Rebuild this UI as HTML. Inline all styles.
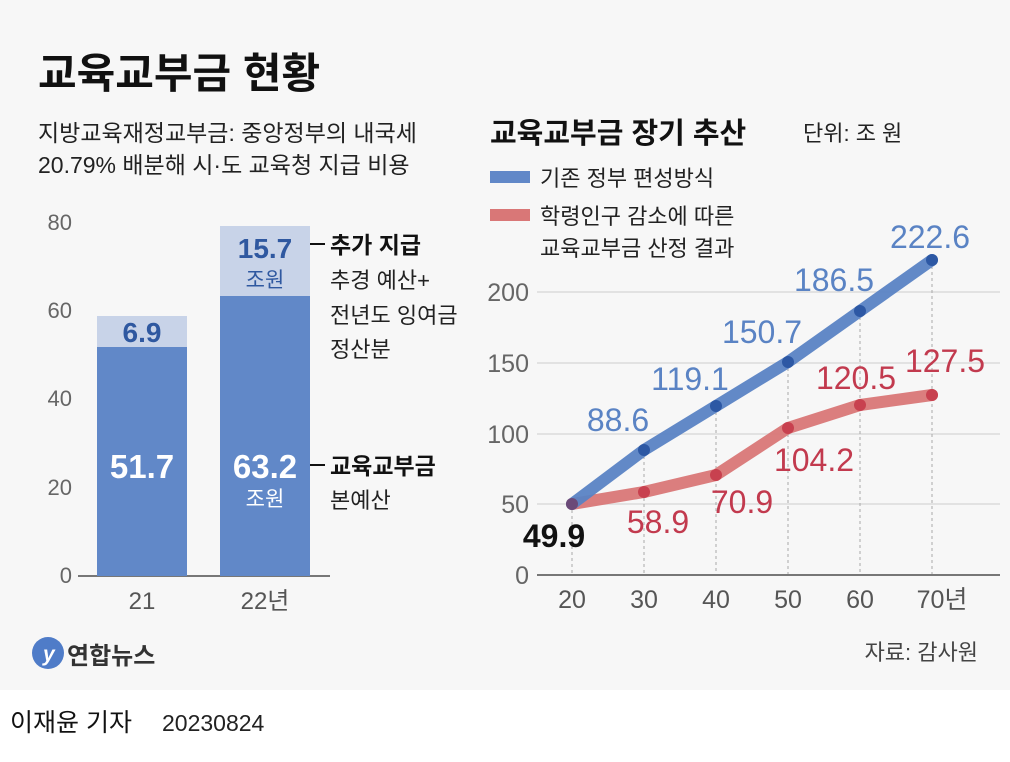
<!DOCTYPE html><html><head><meta charset="utf-8"><style>
body{margin:0;width:1010px;height:757px;overflow:hidden;font-family:"Liberation Sans","Noto Sans CJK KR",sans-serif;}
</style></head><body>
<svg width="1010" height="757" xmlns="http://www.w3.org/2000/svg" font-family="Liberation Sans, Noto Sans CJK KR, sans-serif">
<rect width="1010" height="690" fill="#f7f7f7"/>
<rect y="690" width="1010" height="67" fill="#fff"/>
<text x="38" y="88" font-size="42" font-weight="bold" fill="#111">교육교부금 현황</text>
<text x="38" y="141" font-size="23" fill="#222">지방교육재정교부금: 중앙정부의 내국세</text>
<text x="38" y="173" font-size="23" fill="#222">20.79% 배분해 시·도 교육청 지급 비용</text>
<!-- left axis -->
<g font-size="22" fill="#666" text-anchor="end">
<text x="72" y="230">80</text><text x="72" y="318">60</text><text x="72" y="406">40</text><text x="72" y="495">20</text><text x="72" y="583">0</text></g>
<line x1="78" y1="576" x2="330" y2="576" stroke="#777" stroke-width="2"/>
<rect x="97" y="316" width="90" height="31" fill="#c8d3e8"/>
<rect x="97" y="347" width="90" height="229" fill="#6188c8"/>
<rect x="220" y="226" width="90" height="70" fill="#c8d3e8"/>
<rect x="220" y="296" width="90" height="280" fill="#6188c8"/>
<g font-weight="bold" text-anchor="middle">
<text x="142" y="342" font-size="28" fill="#2f58a0">6.9</text>
<text x="142" y="478" font-size="33" fill="#fff">51.7</text>
<text x="265" y="258" font-size="28" fill="#2f58a0">15.7</text>
<text x="265" y="478" font-size="33" fill="#fff">63.2</text></g>
<g text-anchor="middle" font-size="21">
<text x="265" y="287" fill="#2f58a0">조원</text>
<text x="265" y="506" fill="#fff">조원</text>
<text x="142" y="609" font-size="24" fill="#555">21</text><text x="265" y="609" font-size="24" fill="#555">22년</text></g>
<line x1="310" y1="244" x2="325" y2="244" stroke="#111" stroke-width="2"/>
<line x1="310" y1="465" x2="325" y2="465" stroke="#111" stroke-width="2"/>
<text x="330" y="253" font-size="23" font-weight="bold" fill="#111">추가 지급</text>
<text x="330" y="288" font-size="22" fill="#222">추경 예산+</text>
<text x="330" y="323" font-size="22" fill="#222">전년도 잉여금</text>
<text x="330" y="357" font-size="22" fill="#222">정산분</text>
<text x="330" y="474" font-size="23" font-weight="bold" fill="#111">교육교부금</text>
<text x="330" y="508" font-size="22" fill="#222">본예산</text>
<circle cx="48" cy="653" r="16" fill="#4f7cc8"/>
<text x="43" y="661" font-size="21" font-style="italic" font-weight="bold" fill="#fff">y</text>
<text x="67" y="664" font-size="24" font-weight="bold" fill="#333">연합뉴스</text>
<!-- right -->
<text x="490" y="143" font-size="29" font-weight="bold" fill="#111">교육교부금 장기 추산</text>
<text x="803" y="141" font-size="22" fill="#222">단위: 조 원</text>
<line x1="490" y1="177" x2="530" y2="177" stroke="#6188c8" stroke-width="12"/>
<text x="540" y="186" font-size="22" fill="#222">기존 정부 편성방식</text>
<line x1="490" y1="215" x2="530" y2="215" stroke="#d97777" stroke-width="12"/>
<text x="540" y="224" font-size="22" fill="#222">학령인구 감소에 따른</text>
<text x="540" y="256" font-size="22" fill="#222">교육교부금 산정 결과</text>
<g stroke="#e2e2e2" stroke-width="2">
<line x1="537" y1="292" x2="1000" y2="292"/><line x1="537" y1="363" x2="1000" y2="363"/><line x1="537" y1="434" x2="1000" y2="434"/><line x1="537" y1="504" x2="1000" y2="504"/></g>
<g stroke="#aaa" stroke-width="1" stroke-dasharray="3,3">
<line x1="572" y1="504" x2="572" y2="575"/><line x1="644" y1="450" x2="644" y2="575"/><line x1="716" y1="406" x2="716" y2="575"/><line x1="788" y1="362" x2="788" y2="575"/><line x1="860" y1="311" x2="860" y2="575"/><line x1="932" y1="260" x2="932" y2="575"/></g>
<line x1="537" y1="575" x2="1000" y2="575" stroke="#777" stroke-width="2"/>
<g font-size="25" fill="#666" text-anchor="end">
<text x="529" y="301">200</text><text x="529" y="372">150</text><text x="529" y="443">100</text><text x="529" y="513">50</text><text x="529" y="584">0</text></g>
<g font-size="25" fill="#555" text-anchor="middle">
<text x="572" y="608">20</text><text x="644" y="608">30</text><text x="716" y="608">40</text><text x="788" y="608">50</text><text x="860" y="608">60</text><text x="942" y="608">70년</text></g>
<polyline points="572,504 644,492 716,475 788,428 860,405 932,395" fill="none" stroke="#d97777" stroke-width="12" stroke-linecap="round" stroke-linejoin="round" opacity="0.95"/>
<polyline points="572,504 644,450 716,406 788,362 860,311 932,260" fill="none" stroke="#5a83c4" stroke-width="12" stroke-linecap="round" stroke-linejoin="round" opacity="0.95"/>
<circle cx="572" cy="504" r="6" fill="#6b4a78"/>
<g fill="#c8414f"><circle cx="644" cy="492" r="6"/><circle cx="716" cy="475" r="6"/><circle cx="788" cy="428" r="6"/><circle cx="860" cy="405" r="6"/><circle cx="932" cy="395" r="6"/></g>
<g fill="#2d58a4"><circle cx="644" cy="450" r="6"/><circle cx="716" cy="406" r="6"/><circle cx="788" cy="362" r="6"/><circle cx="860" cy="311" r="6"/><circle cx="932" cy="260" r="6"/></g>
<g font-size="32" text-anchor="middle">
<text x="554" y="547" fill="#111" font-weight="bold">49.9</text>
<g fill="#5a83c4"><text x="618" y="431">88.6</text><text x="690" y="390">119.1</text><text x="762" y="343">150.7</text><text x="834" y="291">186.5</text><text x="930" y="248">222.6</text></g>
<g fill="#c23a4e"><text x="658" y="533">58.9</text><text x="742" y="513">70.9</text><text x="814" y="471">104.2</text><text x="856" y="389">120.5</text><text x="945" y="372">127.5</text></g></g>
<text x="978" y="660" font-size="22" fill="#444" text-anchor="end">자료: 감사원</text>
<text x="10" y="731" font-size="25" fill="#111">이재윤 기자</text>
<text x="162" y="731" font-size="23" fill="#222">20230824</text>
</svg>
</body></html>
